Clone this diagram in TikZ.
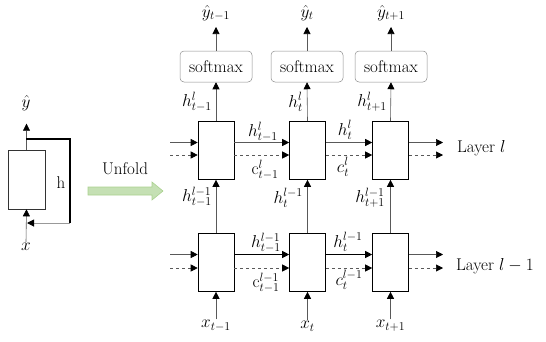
\documentclass[tikz,border=0pt]{standalone}
\usetikzlibrary{arrows.meta,calc}
\definecolor{ufill}{HTML}{C5E0B4}
\definecolor{uline}{HTML}{A9D18E}
\begin{document}
\begin{tikzpicture}[x=1pt,y=-1pt,
  every node/.style={font=\fontsize{17}{20}\selectfont, inner sep=1pt},
  cell/.style={draw=black, fill=white, minimum width=36pt, minimum height=58pt, inner sep=0pt, line width=0.6pt},
  smx/.style={draw=black!45, rounded corners=4pt, minimum width=72pt, minimum height=31pt, inner sep=0pt, line width=0.5pt},
  tip/.style={-{Triangle[length=7pt,width=7pt,color=black]}},
  conn/.style={draw=black!65, line width=0.6pt, tip},
  dconn/.style={draw=black!65, line width=0.6pt, dashed, tip},
  thk/.style={draw=black, line width=1pt, tip}]
\useasboundingbox (0,0) rectangle (546,341);

% ---- folded cell ----
\node[cell, minimum width=37pt, minimum height=59pt, draw=black!80] (L) at (26.5,179.5) {};
\node (yh) at (26,103) {$\hat{y}$};
\node (xx) at (26,247) {$x$};
\node (hh) at (61,183) {h};
\coordinate (fbA) at (26,139);
\coordinate (fbB) at (70,223);
\coordinate (fbC) at (27,223);
\draw[conn] (L.north) -- ++(0,-26);
\draw[black, line width=1.6pt] (fbA) -| (fbB);
\draw[black!40, line width=1pt, tip] (fbB) -- (fbC);
\draw[conn] (xx.north) -- (L.south);

% ---- unfold arrow ----
\node (uf) at (125,169) {Unfold};
\draw[fill=ufill, draw=uline, line width=0.6pt]
  (88,187) -- (152,187) -- (152,182) -- (163,191) -- (152,200) -- (152,195) -- (88,195) -- cycle;

% ---- layer l ----
\node[cell] (a1) at (216,150.5) {};
\node[cell] (a2) at (307.5,150.5) {};
\node[cell] (a3) at (390.5,150.5) {};
% ---- layer l-1 ----
\node[cell] (b1) at (216,262.5) {};
\node[cell] (b2) at (307.5,262.5) {};
\node[cell] (b3) at (390.5,262.5) {};

% softmax
\node[smx] (s1) at (216,66.5) {softmax};
\node[smx] (s2) at (307,66.5) {softmax};
\node[smx] (s3) at (391,66.5) {softmax};

% outputs
\node (y1) at (216,13) {$\hat{y}_{t-1}$};
\node (y2) at (307,13) {$\hat{y}_{t}$};
\node (y3) at (391,13) {$\hat{y}_{t+1}$};
\coordinate (o1) at (216,27);
\coordinate (o2) at (307,27);
\coordinate (o3) at (391,27);
\draw[conn] (s1.north) -- (o1);
\draw[conn] (s2.north) -- (o2);
\draw[conn] (s3.north) -- (o3);
\draw[conn] (a1.north) -- (s1.south);
\draw[conn] (a2.north) -- (s2.south);
\draw[conn] (a3.north) -- (s3.south);
\node[anchor=east] (hl1) at (213,102) {$h^{l}_{t-1}$};
\node[anchor=east] (hl2) at (304,102) {$h^{l}_{t}$};
\node[anchor=east] (hl3) at (388,102) {$h^{l}_{t+1}$};

% inputs
\node (x1) at (216,326) {$x_{t-1}$};
\node (x2) at (307.5,326) {$x_{t}$};
\node (x3) at (390.5,326) {$x_{t+1}$};
\draw[conn] (x1.north) -- (b1.south);
\draw[conn] (x2.north) -- (b2.south);
\draw[conn] (x3.north) -- (b3.south);

% between layers
\draw[conn] (b1.north) -- (a1.south);
\draw[conn] (b2.north) -- (a2.south);
\draw[conn] (b3.north) -- (a3.south);
\node[anchor=east] (m1) at (213,197) {$h^{l-1}_{t-1}$};
\node[anchor=east] (m2) at (304,198) {$h^{l-1}_{t}$};
\node[anchor=east] (m3) at (386,198) {$h^{l-1}_{t+1}$};

% layer l horizontal
\coordinate (ain) at (170,142.5);
\coordinate (aind) at (170,155);
\coordinate (aout) at (443,142.5);
\coordinate (aoutd) at (443,155);
\draw[conn] (ain) -- (ain -| a1.west);
\draw[dconn] (aind) -- (aind -| a1.west);
\draw[conn] (ain -| a1.east) -- (ain -| a2.west);
\draw[dconn] (aind -| a1.east) -- (aind -| a2.west);
\draw[conn] (ain -| a2.east) -- (ain -| a3.west);
\draw[dconn] (aind -| a2.east) -- (aind -| a3.west);
\draw[conn] (ain -| a3.east) -- (aout);
\draw[dconn] (aind -| a3.east) -- (aoutd);
\node (ha1) at (263,132) {$h^{l}_{t-1}$};
\node (ca1) at (265,170) {$\mathrm{c}^{l}_{t-1}$};
\node (ha2) at (345,130) {$h^{l}_{t}$};
\node (ca2) at (343,167) {$c^{l}_{t}$};

% layer l-1 horizontal
\coordinate (bin) at (170,254.5);
\coordinate (bind) at (170,268);
\coordinate (bout) at (443,254.5);
\coordinate (boutd) at (443,268);
\draw[conn] (bin) -- (bin -| b1.west);
\draw[dconn] (bind) -- (bind -| b1.west);
\draw[thk] (bin -| b1.east) -- (bin -| b2.west);
\draw[dconn] (bind -| b1.east) -- (bind -| b2.west);
\draw[thk] (bin -| b2.east) -- (bin -| b3.west);
\draw[dconn] (bind -| b2.east) -- (bind -| b3.west);
\draw[conn] (bin -| b3.east) -- (bout);
\draw[dconn] (bind -| b3.east) -- (boutd);
\node (hb1) at (266,243) {$h^{l-1}_{t-1}$};
\node (cb1) at (266,283) {$\mathrm{c}^{l-1}_{t-1}$};
\node (hb2) at (348,242) {$h^{l-1}_{t}$};
\node (cb2) at (349,280) {$c^{l-1}_{t}$};

% layer names
\node[anchor=west] (la) at (456,148) {Layer $l$};
\node[anchor=west] (lb) at (455,266) {Layer $l-1$};
\end{tikzpicture}
\end{document}
